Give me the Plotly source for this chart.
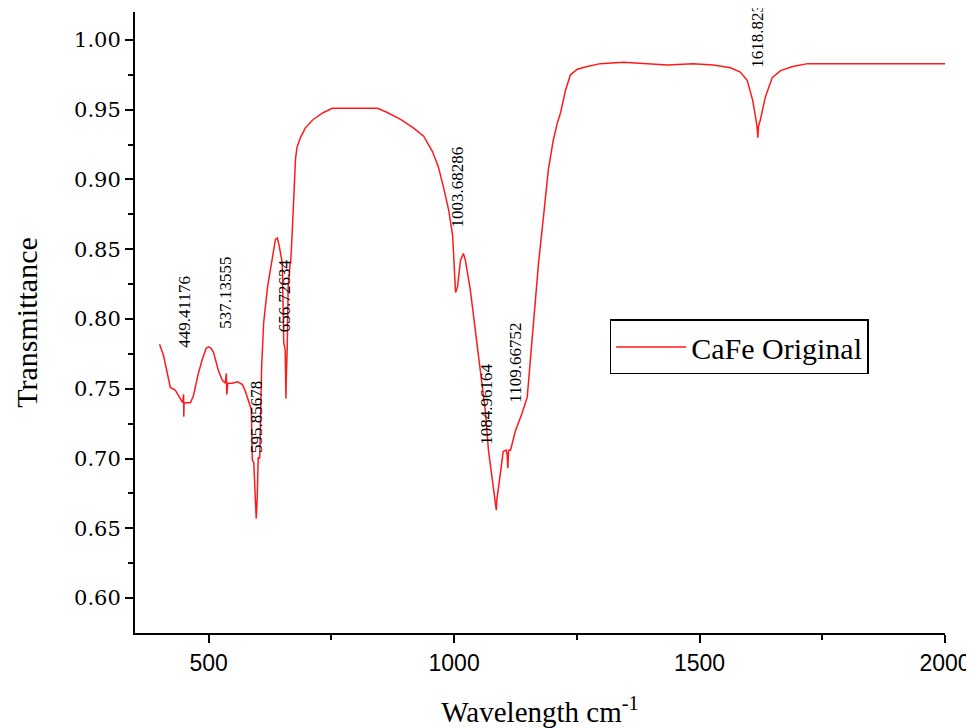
import plotly.graph_objects as go

wavenumber = [400, 408, 422, 432, 439, 446, 447, 449, 449.4, 450, 455, 463, 469, 479, 487, 495, 500, 505, 510,
              520, 528, 534, 536, 537, 539, 548, 559, 569, 575, 581, 587, 589, 592, 595, 597, 599, 601, 604,
              606, 608, 612, 620, 630, 636, 640, 644, 650, 652, 653, 656, 657, 657.5, 658, 660, 662, 666,
              667, 670, 672, 674, 677, 680, 687, 697, 713, 734, 752, 795, 844, 864, 891, 917, 938, 956, 968,
              978, 989, 997, 999, 1001, 1003, 1007, 1013, 1019, 1023, 1033, 1043, 1054, 1064, 1070, 1078,
              1084, 1086, 1087, 1090, 1096, 1100, 1106, 1108, 1109.5, 1111, 1115, 1125, 1139, 1149, 1155,
              1162, 1172, 1182, 1192, 1202, 1210, 1217, 1227, 1237, 1251, 1271, 1298, 1345, 1400, 1434,
              1487, 1528, 1563, 1583, 1597, 1608, 1614, 1617, 1618.8, 1620, 1624, 1634, 1648, 1665, 1690,
              1720, 1800, 1868, 1950, 2000]
transmittance = [0.782, 0.774, 0.751, 0.749, 0.745, 0.741, 0.740, 0.746, 0.730, 0.740, 0.740, 0.740, 0.745,
                 0.761, 0.771, 0.779, 0.780, 0.779, 0.776, 0.763, 0.756, 0.754, 0.761, 0.746, 0.754, 0.754,
                 0.755, 0.753, 0.748, 0.742, 0.735, 0.699, 0.697, 0.672, 0.657, 0.672, 0.701, 0.700, 0.744,
                 0.766, 0.797, 0.823, 0.844, 0.857, 0.858, 0.852, 0.840, 0.811, 0.783, 0.778, 0.756, 0.743,
                 0.756, 0.778, 0.823, 0.840, 0.840, 0.860, 0.880, 0.900, 0.915, 0.923, 0.930, 0.937, 0.943,
                 0.948, 0.951, 0.951, 0.951, 0.948, 0.943, 0.937, 0.931, 0.920, 0.909, 0.895, 0.878, 0.860,
                 0.844, 0.830, 0.819, 0.823, 0.842, 0.847, 0.842, 0.821, 0.792, 0.763, 0.733, 0.706, 0.685,
                 0.670, 0.663, 0.670, 0.677, 0.694, 0.705, 0.706, 0.703, 0.693, 0.706, 0.706, 0.720, 0.733,
                 0.744, 0.768, 0.801, 0.840, 0.873, 0.907, 0.928, 0.940, 0.948, 0.964, 0.975, 0.979, 0.981,
                 0.983, 0.984, 0.983, 0.982, 0.983, 0.982, 0.980, 0.977, 0.971, 0.957, 0.945, 0.938, 0.930,
                 0.938, 0.943, 0.959, 0.973, 0.978, 0.981, 0.983, 0.983, 0.983, 0.983, 0.983]

peak_labels = ["449.41176", "537.13555", "595.85678", "656.72634", "1003.68286", "1084.96164",
               "1109.66752", "1618.823"]
peak_label_x = [449, 534, 597, 656, 1005, 1066, 1125, 1618]
peak_label_y = [0.805, 0.819, 0.730, 0.8165, 0.8946, 0.739, 0.769, 0.979]
peak_label_anchor = ["middle"] * 7 + ["bottom"]

fig = go.Figure()
fig.add_trace(go.Scatter(x=wavenumber, y=transmittance, mode="lines", name="CaFe Original",
                         line=dict(color="#ff1a1a", width=1.5)))

for t, x, y, a in zip(peak_labels, peak_label_x, peak_label_y, peak_label_anchor):
    fig.add_annotation(x=x, y=y, text=t, showarrow=False, textangle=-90,
                       xanchor="center", yanchor=a,
                       font=dict(family="Liberation Serif", size=17, color="black"))

# page body has a default 8px margin, so the figure is drawn 8px in and down
fig.update_layout(
    width=966, height=720,
    margin=dict(l=127, r=29, t=4, b=95),
    paper_bgcolor="white", plot_bgcolor="white",
    showlegend=True,
    legend=dict(x=0.586, y=0.505, xanchor="left", yanchor="top",
                bordercolor="black", borderwidth=1.5, bgcolor="white",
                font=dict(family="Liberation Serif", size=30, color="black"),
                itemwidth=70, tracegroupgap=0),
    xaxis=dict(range=[350, 2000], tickvals=[500, 1000, 1500, 2000], automargin=False,
               showline=True, linecolor="black", linewidth=2,
               ticks="outside", ticklen=8, tickwidth=2, tickcolor="black",
               minor=dict(tickvals=[750, 1250, 1750], ticks="outside", ticklen=5, tickwidth=2, tickcolor="black"),
               showgrid=False, zeroline=False, mirror=False,
               tickfont=dict(family="Liberation Sans", size=23, color="black"),
               title=dict(text="Wavelength cm<sup>-1</sup>", standoff=27,
                          font=dict(family="Liberation Serif", size=29, color="black"))),
    yaxis=dict(range=[0.575, 1.02], tickvals=[0.60, 0.65, 0.70, 0.75, 0.80, 0.85, 0.90, 0.95, 1.00],
               tickformat=".2f", automargin=False,
               showline=True, linecolor="black", linewidth=2,
               ticks="outside", ticklen=8, tickwidth=2, tickcolor="black",
               minor=dict(tickvals=[0.625, 0.675, 0.725, 0.775, 0.825, 0.875, 0.925, 0.975],
                          ticks="outside", ticklen=5, tickwidth=2, tickcolor="black"),
               showgrid=False, zeroline=False, mirror=False,
               tickfont=dict(family="DejaVu Serif", size=21, color="black"),
               title=dict(text="Transmittance", standoff=28,
                          font=dict(family="Liberation Serif", size=30, color="black"))),
)

fig.write_html("out.html")
